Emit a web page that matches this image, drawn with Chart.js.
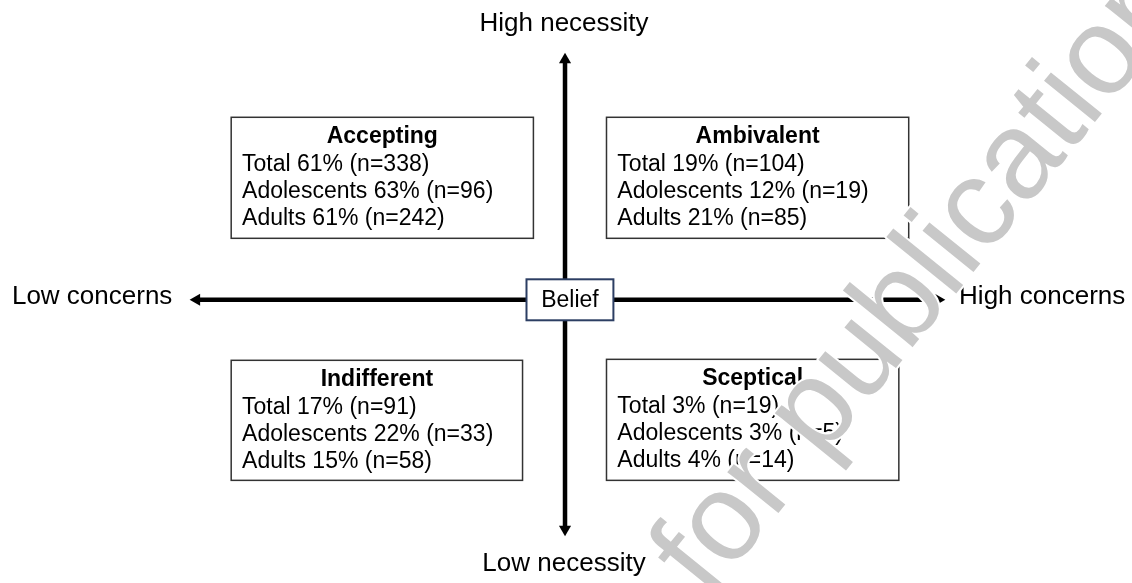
<!DOCTYPE html>
<html lang="en">
<head>
<meta charset="UTF-8">
<title>Belief quadrants</title>
<script src="https://cdn.jsdelivr.net/npm/chart.js"></script>
<style>
  html, body { margin: 0; padding: 0; background: #fff; }
  #wrap { width: 1132px; height: 583px; position: relative; }
</style>
</head>
<body>
<div id="wrap"><canvas id="beliefChart"></canvas></div>
<script>
    // Quadrant data (order: top-left, top-right, bottom-left, bottom-right)
    const groups = ['Accepting', 'Ambivalent', 'Indifferent', 'Sceptical'];
    const totalPct = [61, 19, 17, 3];
    const totalN = [338, 104, 91, 19];
    const adolPct = [63, 12, 22, 3];
    const adolN = [96, 19, 33, 5];
    const adultPct = [61, 21, 15, 4];
    const adultN = [242, 85, 58, 14];
    const rowLabels = ['Total', 'Adolescents', 'Adults'];
    const axisLabels = ['High necessity', 'Low necessity', 'Low concerns', 'High concerns'];
    const centreLabel = 'Belief';
    const watermark = 'Not for publication';

    const FONT = '"Liberation Sans", Arial, Helvetica, sans-serif';

    // box frames in canvas units (x0, y0, x1, y1)
    const frames = [
        [227, 113, 533, 237],
        [607, 113, 913, 237],
        [227, 362, 522, 485],
        [607, 361, 903, 485]
    ];

    const quadrantPlugin = {
        id: 'quadrants',
        afterDatasetsDraw(chart) {
            const ctx = chart.ctx;
            const sx = chart.scales.x, sy = chart.scales.y;
            const px = v => sx.getPixelForValue(v);
            const py = v => sy.getPixelForValue(v);
            ctx.save();
            ctx.textBaseline = 'alphabetic';
            ctx.fillStyle = '#000';

            // axis end labels
            ctx.font = '26px ' + FONT;
            ctx.textAlign = 'center';
            ctx.fillText(axisLabels[0], px(564), py(25));
            ctx.fillText(axisLabels[1], px(564), py(578));
            ctx.textAlign = 'left';
            ctx.fillText(axisLabels[2], px(5), py(304));
            ctx.fillText(axisLabels[3], px(964), py(304));

            // quadrant boxes
            groups.forEach((g, i) => {
                const [x0, y0, x1, y1] = frames[i];
                ctx.fillStyle = '#fff';
                ctx.fillRect(px(x0), py(y0), px(x1) - px(x0), py(y1) - py(y0));
                ctx.strokeStyle = '#333';
                ctx.lineWidth = 1.5;
                ctx.strokeRect(px(x0), py(y0), px(x1) - px(x0), py(y1) - py(y0));
                ctx.fillStyle = '#000';
                ctx.font = 'bold 23px ' + FONT;
                ctx.textAlign = 'center';
                ctx.fillText(g, px((x0 + x1) / 2), py(y0 + 26));
                ctx.font = '23px ' + FONT;
                ctx.textAlign = 'left';
                const rows = [
                    `${rowLabels[0]} ${totalPct[i]}% (n=${totalN[i]})`,
                    `${rowLabels[1]} ${adolPct[i]}% (n=${adolN[i]})`,
                    `${rowLabels[2]} ${adultPct[i]}% (n=${adultN[i]})`
                ];
                rows.forEach((r, k) => ctx.fillText(r, px(x0 + 11), py(y0 + 55 + k * 27.5)));
            });

            // centre box
            ctx.fillStyle = '#fff';
            ctx.fillRect(px(526), py(279), px(614) - px(526), py(321) - py(279));
            ctx.strokeStyle = '#2c3e63';
            ctx.lineWidth = 2;
            ctx.strokeRect(px(526), py(279), px(614) - px(526), py(321) - py(279));
            ctx.fillStyle = '#000';
            ctx.font = '23px ' + FONT;
            ctx.textAlign = 'center';
            ctx.fillText(centreLabel, px(570), py(307));
            ctx.restore();
        },
        afterDraw(chart) {
            // diagonal watermark
            const ctx = chart.ctx;
            const size = 124;
            const ang = -51 * Math.PI / 180;
            ctx.save();
            ctx.font = size + 'px ' + FONT;
            const lead = ctx.measureText('Not ').width;
            const ox = 708 - lead * Math.cos(ang);
            const oy = 600 - lead * Math.sin(ang);
            ctx.translate(ox, oy);
            ctx.rotate(ang);
            ctx.textAlign = 'left';
            ctx.textBaseline = 'alphabetic';
            ctx.lineJoin = 'round';
            ctx.strokeStyle = '#fff';
            ctx.lineWidth = 4;
            ctx.strokeText(watermark, 0, 0);
            ctx.fillStyle = '#c8c8c8';
            ctx.fillText(watermark, 0, 0);
            ctx.restore();
        }
    };

    new Chart(document.getElementById('beliefChart'), {
        type: 'scatter',
        data: {
            datasets: [
                {
                    // concerns axis
                    type: 'line',
                    data: [{ x: 192, y: 300 }, { x: 943, y: 300 }],
                    borderColor: '#000',
                    borderWidth: 4.5,
                    pointStyle: 'triangle',
                    pointRadius: 7,
                    pointRotation: [-90, 90],
                    pointBackgroundColor: '#000',
                    pointBorderWidth: 0
                },
                {
                    // necessity axis
                    type: 'line',
                    data: [{ x: 565, y: 54 }, { x: 565, y: 535 }],
                    borderColor: '#000',
                    borderWidth: 4.5,
                    pointStyle: 'triangle',
                    pointRadius: 7,
                    pointRotation: [0, 180],
                    pointBackgroundColor: '#000',
                    pointBorderWidth: 0
                }
            ]
        },
        options: {
            responsive: true,
            maintainAspectRatio: false,
            animation: false,
            events: [],
            layout: { padding: 0 },
            plugins: {
                legend: { display: false },
                tooltip: { enabled: false },
                title: { display: false }
            },
            scales: {
                x: { type: 'linear', min: 0, max: 1132, display: false },
                y: { type: 'linear', min: 0, max: 583, reverse: true, display: false }
            }
        },
        plugins: [quadrantPlugin]
    });
</script>
</body>
</html>
